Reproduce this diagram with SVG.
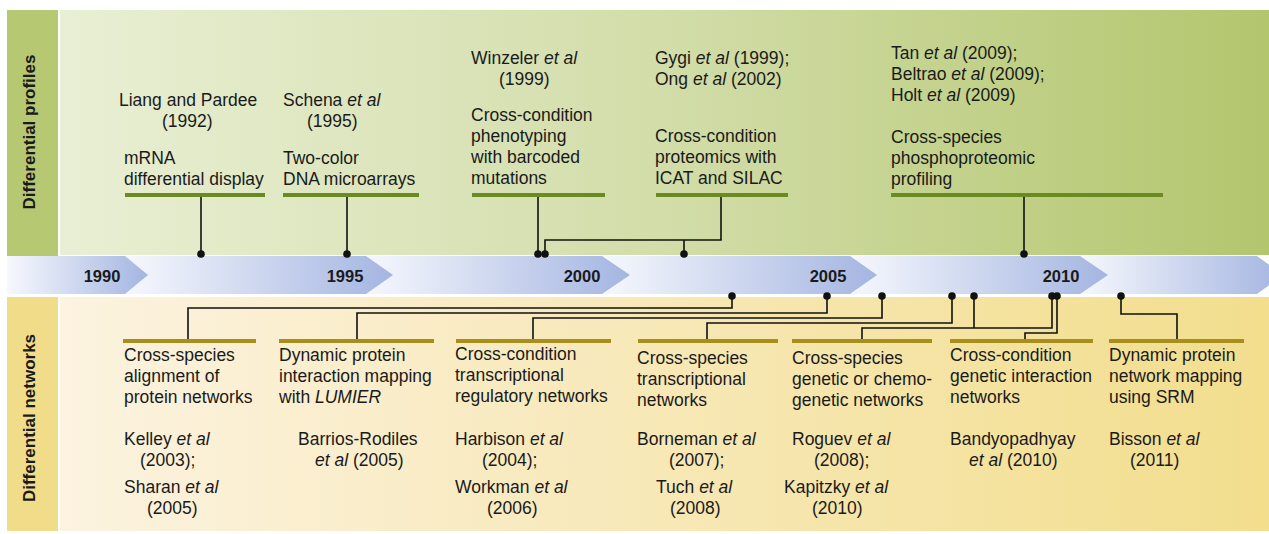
<svg xmlns="http://www.w3.org/2000/svg" width="1269" height="534" viewBox="0 0 1269 534">
<defs>
<linearGradient id="gTop" x1="0" y1="0" x2="1" y2="0"><stop offset="0" stop-color="#e9efd4"/><stop offset="0.5" stop-color="#d2dda9"/><stop offset="1" stop-color="#b3c66d"/></linearGradient>
<linearGradient id="gBot" x1="0" y1="0" x2="1" y2="0"><stop offset="0" stop-color="#fcf3e0"/><stop offset="0.5" stop-color="#f7e8b6"/><stop offset="1" stop-color="#f2de8d"/></linearGradient>
<linearGradient id="gSeg" x1="0" y1="0" x2="1" y2="0"><stop offset="0" stop-color="#f6f8fd"/><stop offset="1" stop-color="#a4b5e1"/></linearGradient>
<style>
text{font-family:"Liberation Sans",Arial,sans-serif;font-size:17.5px;fill:#1a1a1a}
.i{font-style:italic}
.yr{font-weight:bold;font-size:16.5px;text-anchor:middle}
.side{font-weight:bold;font-size:17px;text-anchor:middle}
.gb{fill:#6a8a22}
.yb{fill:#a88f1c}
.c{fill:none;stroke:#111;stroke-width:1.6}
.d{fill:#111}
</style>
</defs>
<rect width="1269" height="534" fill="#fff"/>
<g id="panels">
<rect x="60" y="10" width="1209" height="245" fill="url(#gTop)"/>
<rect x="7" y="10" width="51" height="248" fill="#b6c872"/>
<rect x="60" y="297" width="1209" height="234" fill="url(#gBot)"/>
<rect x="7" y="297" width="51" height="234" fill="#f0dc89"/>
<text class="side" transform="translate(35,132) rotate(-90)">Differential profiles</text>
<text class="side" transform="translate(35,418) rotate(-90)">Differential networks</text>
</g>
<g id="timeline">
<polygon points="1080,256 1257,256 1283,275 1257,294 1080,294" fill="url(#gSeg)"/>
<polygon points="850,256 1080,256 1108,275 1080,294 850,294" fill="url(#gSeg)"/>
<polygon points="602,256 850,256 877,275 850,294 602,294" fill="url(#gSeg)"/>
<polygon points="366,256 602,256 630,275 602,294 366,294" fill="url(#gSeg)"/>
<polygon points="125,256 366,256 393,275 366,294 125,294" fill="url(#gSeg)"/>
<polygon points="7,256 125,256 148,275 125,294 7,294" fill="url(#gSeg)"/>
<text class="yr" x="102" y="282">1990</text>
<text class="yr" x="345" y="282">1995</text>
<text class="yr" x="582" y="282">2000</text>
<text class="yr" x="828" y="282">2005</text>
<text class="yr" x="1061" y="282">2010</text>
</g>
<g id="connectors">
<path class="c" d="M201 197V254"/><circle class="d" cx="201" cy="254" r="3.8"/>
<path class="c" d="M347 197V254"/><circle class="d" cx="347" cy="254" r="3.8"/>
<path class="c" d="M538 197V254"/><circle class="d" cx="538" cy="254" r="3.8"/>
<path class="c" d="M721 197V240H545V254M684 240V254"/><circle class="d" cx="545" cy="254" r="3.8"/><circle class="d" cx="684" cy="254" r="3.8"/>
<path class="c" d="M1024 197V254"/><circle class="d" cx="1024" cy="254" r="3.8"/>
<path class="c" d="M188 339V308H732V296"/><circle class="d" cx="732" cy="296" r="3.8"/>
<path class="c" d="M357 339V313H827V296"/><circle class="d" cx="827" cy="296" r="3.8"/>
<path class="c" d="M533 339V318H882V296"/><circle class="d" cx="882" cy="296" r="3.8"/>
<path class="c" d="M707 339V323H952V296"/><circle class="d" cx="952" cy="296" r="3.8"/>
<path class="c" d="M862 339V328H1052V296M974 328V296"/><circle class="d" cx="974" cy="296" r="3.8"/><circle class="d" cx="1052" cy="296" r="3.8"/>
<path class="c" d="M1025 339V333H1057V296"/><circle class="d" cx="1057" cy="296" r="3.8"/>
<path class="c" d="M1121 296V314H1177V339"/><circle class="d" cx="1121" cy="296" r="3.8"/>
</g>
<g id="p1">
<rect class="gb" x="125" y="193" width="140" height="4"/>
<text x="119" y="106">Liang and Pardee</text>
<text x="162" y="127">(1992)</text>
<text x="124" y="164">mRNA</text>
<text x="124" y="185">differential display</text>
</g>
<g id="p2">
<rect class="gb" x="283" y="193" width="136" height="4"/>
<text x="283" y="106">Schena <tspan class="i">et al</tspan></text>
<text x="307" y="127">(1995)</text>
<text x="283" y="164">Two-color</text>
<text x="283" y="185">DNA microarrays</text>
</g>
<g id="p3">
<rect class="gb" x="472" y="193" width="133" height="4"/>
<text x="471" y="64">Winzeler <tspan class="i">et al</tspan></text>
<text x="499" y="85">(1999)</text>
<text x="471" y="121">Cross-condition</text>
<text x="471" y="142">phenotyping</text>
<text x="471" y="163">with barcoded</text>
<text x="471" y="184">mutations</text>
</g>
<g id="p4">
<rect class="gb" x="656" y="193" width="132" height="4"/>
<text x="655" y="64">Gygi <tspan class="i">et al</tspan> (1999);</text>
<text x="655" y="85">Ong <tspan class="i">et al</tspan> (2002)</text>
<text x="655" y="142">Cross-condition</text>
<text x="655" y="163">proteomics with</text>
<text x="655" y="184">ICAT and SILAC</text>
</g>
<g id="p5">
<rect class="gb" x="891" y="193" width="272" height="4"/>
<text x="891" y="59">Tan <tspan class="i">et al</tspan> (2009);</text>
<text x="891" y="80">Beltrao <tspan class="i">et al</tspan> (2009);</text>
<text x="891" y="101">Holt <tspan class="i">et al</tspan> (2009)</text>
<text x="891" y="143">Cross-species</text>
<text x="891" y="164">phosphoproteomic</text>
<text x="891" y="185">profiling</text>
</g>
<g id="n1">
<rect class="yb" x="123" y="339" width="133" height="4"/>
<text x="124" y="361">Cross-species</text>
<text x="124" y="382">alignment of</text>
<text x="124" y="403">protein networks</text>
<text x="124" y="445">Kelley <tspan class="i">et al</tspan></text>
<text x="140" y="466">(2003);</text>
<text x="124" y="493">Sharan <tspan class="i">et al</tspan></text>
<text x="147" y="514">(2005)</text>
</g>
<g id="n2">
<rect class="yb" x="279" y="339" width="155" height="4"/>
<text x="279" y="361">Dynamic protein</text>
<text x="279" y="382">interaction mapping</text>
<text x="279" y="403">with <tspan class="i">LUMIER</tspan></text>
<text x="298" y="445">Barrios-Rodiles</text>
<text x="315" y="466"><tspan class="i">et al</tspan> (2005)</text>
</g>
<g id="n3">
<rect class="yb" x="456" y="339" width="155" height="4"/>
<text x="455" y="360">Cross-condition</text>
<text x="455" y="381">transcriptional</text>
<text x="455" y="402">regulatory networks</text>
<text x="455" y="445">Harbison <tspan class="i">et al</tspan></text>
<text x="482" y="466">(2004);</text>
<text x="455" y="493">Workman <tspan class="i">et al</tspan></text>
<text x="487" y="514">(2006)</text>
</g>
<g id="n4">
<rect class="yb" x="638" y="339" width="140" height="4"/>
<text x="637" y="364">Cross-species</text>
<text x="637" y="385">transcriptional</text>
<text x="637" y="406">networks</text>
<text x="637" y="445">Borneman <tspan class="i">et al</tspan></text>
<text x="669" y="466">(2007);</text>
<text x="656" y="493">Tuch <tspan class="i">et al</tspan></text>
<text x="670" y="514">(2008)</text>
</g>
<g id="n5">
<rect class="yb" x="792" y="339" width="140" height="4"/>
<text x="792" y="364">Cross-species</text>
<text x="792" y="385">genetic or chemo-</text>
<text x="792" y="406">genetic networks</text>
<text x="792" y="445">Roguev <tspan class="i">et al</tspan></text>
<text x="814" y="466">(2008);</text>
<text x="784" y="493">Kapitzky <tspan class="i">et al</tspan></text>
<text x="812" y="514">(2010)</text>
</g>
<g id="n6">
<rect class="yb" x="950" y="339" width="143" height="4"/>
<text x="950" y="361">Cross-condition</text>
<text x="950" y="382">genetic interaction</text>
<text x="950" y="403">networks</text>
<text x="950" y="445">Bandyopadhyay</text>
<text x="969" y="466"><tspan class="i">et al</tspan> (2010)</text>
</g>
<g id="n7">
<rect class="yb" x="1109" y="339" width="135" height="4"/>
<text x="1109" y="361">Dynamic protein</text>
<text x="1109" y="382">network mapping</text>
<text x="1109" y="403">using SRM</text>
<text x="1109" y="445">Bisson <tspan class="i">et al</tspan></text>
<text x="1130" y="466">(2011)</text>
</g>
</svg>
